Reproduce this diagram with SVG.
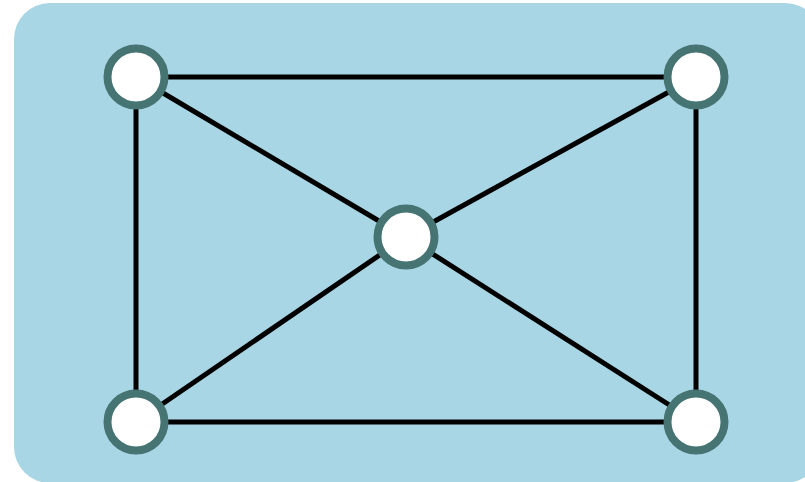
<svg xmlns="http://www.w3.org/2000/svg" width="805" height="482" viewBox="0 0 805 482">
<style>
.edge{stroke:#000;stroke-width:5;fill:none}
.node{fill:#fff;stroke:#457472;stroke-width:8}
</style>
<rect x="0" y="0" width="805" height="482" fill="#fff"/>
<rect x="14" y="3" width="807" height="480" rx="36" ry="36" fill="#a9d6e5"/>
<g id="edges">
<line class="edge" x1="136" y1="77" x2="696" y2="77"/>
<line class="edge" x1="136" y1="77" x2="136" y2="422"/>
<line class="edge" x1="696" y1="77" x2="696" y2="422"/>
<line class="edge" x1="136" y1="422" x2="696" y2="422"/>
<line class="edge" x1="136" y1="77" x2="406" y2="237"/>
<line class="edge" x1="696" y1="77" x2="406" y2="237"/>
<line class="edge" x1="136" y1="422" x2="406" y2="237"/>
<line class="edge" x1="696" y1="422" x2="406" y2="237"/>
</g>
<g id="n1"><circle class="node" cx="136" cy="77" r="28.5"/></g>
<g id="n2"><circle class="node" cx="696" cy="77" r="28.5"/></g>
<g id="n3"><circle class="node" cx="406" cy="237" r="28.5"/></g>
<g id="n4"><circle class="node" cx="136" cy="422" r="28.5"/></g>
<g id="n5"><circle class="node" cx="696" cy="422" r="28.5"/></g>
</svg>
